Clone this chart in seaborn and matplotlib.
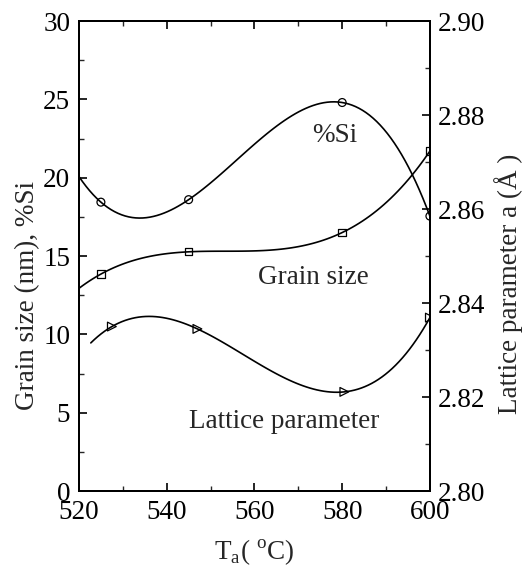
import matplotlib
matplotlib.use("Agg")
import matplotlib.pyplot as plt
from matplotlib.ticker import MultipleLocator
import seaborn as sns
import pandas as pd

# Annealing temperature series (deg C) and measured values
temp_si = [525, 545, 580, 600]
si_pct = [18.44, 18.6, 24.8, 17.55]

temp_grain = [525, 545, 580, 600]
grain_nm = [13.85, 15.27, 16.5, 21.7]

temp_lat = [527.5, 547, 580.5, 600]
lattice_a = [2.835, 2.8345, 2.8211, 2.8369]

x_ticks = [520, 540, 560, 580, 600]
left_ticks = [0, 5, 10, 15, 20, 25, 30]
right_ticks = [2.80, 2.82, 2.84, 2.86, 2.88, 2.90]

sns.set_style("ticks")
plt.rcParams["font.family"] = ["Liberation Serif", "DejaVu Serif"]
plt.rcParams["mathtext.fontset"] = "custom"
plt.rcParams["mathtext.rm"] = "Liberation Serif"
FS = 19.5

fig = plt.figure(figsize=(5.23, 5.69), dpi=100)
ax = fig.add_axes([0.151, 0.137, 0.671, 0.826])
ax2 = ax.twinx()

df_si = pd.DataFrame({"T": temp_si, "v": si_pct})
df_gr = pd.DataFrame({"T": temp_grain, "v": grain_nm})
df_la = pd.DataFrame({"T": temp_lat, "v": lattice_a})

ax.set_xlim(520, 600)
ax.set_ylim(0, 30)
ax2.set_ylim(2.80, 2.90)

line_kws = {"lw": 1.2}
def sk(s):
    return {"facecolors": "none", "s": s, "linewidths": 0.9, "alpha": 1, "zorder": 3}

# cubic fits across the full temperature window
sns.regplot(data=df_si, x="T", y="v", order=3, ci=None, truncate=False,
            marker="o", color="k", scatter_kws=sk(32), line_kws=line_kws, ax=ax)
sns.regplot(data=df_gr, x="T", y="v", order=3, ci=None, truncate=False,
            marker="s", color="k", scatter_kws=sk(28), line_kws=line_kws, ax=ax)

# lattice fit drawn from 522.7 deg C onward
ax2.set_xlim(522.7, 600)
sns.regplot(data=df_la, x="T", y="v", order=3, ci=None, truncate=False,
            marker=">", color="k", scatter_kws=sk(40), line_kws=line_kws, ax=ax2)
ax.set_xlim(520, 600)
ax2.set_ylim(2.80, 2.90)

for a in (ax, ax2):
    for s in a.spines.values():
        s.set_linewidth(1.4)
        s.set_color("k")
        s.set_visible(True)

ax.set_xticks(x_ticks)
ax.set_xticklabels([str(v) for v in x_ticks])
ax.xaxis.set_minor_locator(MultipleLocator(10))
ax.set_yticks(left_ticks)
ax.set_yticklabels([str(v) for v in left_ticks])
ax.yaxis.set_minor_locator(MultipleLocator(2.5))
ax2.set_yticks(right_ticks)
ax2.set_yticklabels([f"{v:.2f}" for v in right_ticks])
ax2.yaxis.set_minor_locator(MultipleLocator(0.01))

ax.tick_params(axis="x", which="major", direction="in", length=6, width=1.2,
               labelsize=FS, top=True, pad=6.3, colors="k")
ax.tick_params(axis="y", which="major", direction="in", length=6, width=1.2,
               labelsize=FS, right=False, pad=6.3, colors="k")
ax.tick_params(axis="both", which="minor", direction="in", length=3.5, width=1.0,
               top=True, right=False)
ax2.tick_params(axis="y", which="major", direction="in", length=6, width=1.2,
                labelsize=FS, pad=5.6, colors="k")
ax2.tick_params(axis="y", which="minor", direction="in", length=3.5, width=1.0)

ax.set_xlabel("T$_\\mathregular{a}$( $^\\mathregular{o}$C)", fontsize=FS, labelpad=9)
ax.set_ylabel("Grain size (nm), %Si", fontsize=FS)
ax.yaxis.set_label_coords(-0.112, 0.415)
ax2.set_ylabel("Lattice parameter a (Å )", fontsize=FS)
ax2.yaxis.set_label_coords(1.183, 0.44)

ax.text(578.2, 22.7, "%Si", fontsize=FS, ha="center", va="center")
ax.text(573.4, 13.66, "Grain size", fontsize=FS, ha="center", va="center")
ax.text(566.7, 4.42, "Lattice parameter", fontsize=FS, ha="center", va="center")

fig.savefig("out.png", dpi=100)
